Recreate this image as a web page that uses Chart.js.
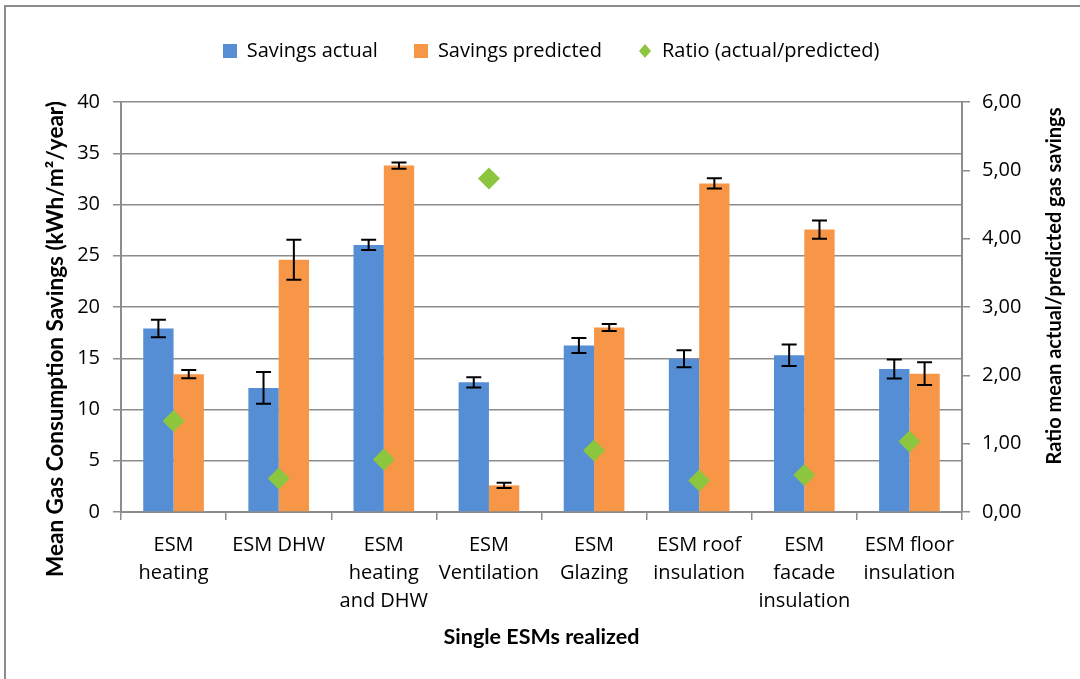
<!DOCTYPE html>
<html>
<head>
<meta charset="utf-8">
<script src="https://cdn.jsdelivr.net/npm/chart.js@4/dist/chart.umd.min.js"></script>
<style>
  html, body { margin: 0; padding: 0; background: #fff; overflow: hidden; }
  #frame { position: absolute; left: 4px; top: 5px; width: 1200px; height: 800px;
           border-left: 2px solid #8c8c8c; border-top: 2px solid #8c8c8c; }
  #wrap { position: absolute; left: 0; top: 0; width: 1080px; height: 679px; }
</style>
</head>
<body>
<div id="frame"></div>
<div id="wrap"><canvas id="c" width="1080" height="679"></canvas></div>
<script>
// ---- data ----
const categories = [
  ['ESM', 'heating'],
  'ESM DHW',
  ['ESM', 'heating', 'and DHW'],
  ['ESM', 'Ventilation'],
  ['ESM', 'Glazing'],
  ['ESM roof', 'insulation'],
  ['ESM', 'facade', 'insulation'],
  ['ESM floor', 'insulation']
];
const savingsActual     = [17.9, 12.1, 26.05, 12.65, 16.25, 14.95, 15.3, 13.95];
const savingsActualErr  = [0.85, 1.55, 0.5, 0.5, 0.73, 0.83, 1.05, 0.93];
const savingsPredicted  = [13.45, 24.6, 33.8, 2.6, 18.0, 32.05, 27.55, 13.5];
const savingsPredictedErr = [0.4, 1.95, 0.3, 0.25, 0.35, 0.5, 0.9, 1.1];
const ratioValues       = [1.33, 0.49, 0.77, 4.88, 0.90, 0.46, 0.54, 1.03];
const seriesNames = ['Savings actual', 'Savings predicted', 'Ratio (actual/predicted)'];
const leftTitle  = 'Mean Gas Consumption Savings (kWh/m\u00B2/year)';
const rightTitle = 'Ratio mean actual/predicted gas savings';
const xTitle     = 'Single ESMs realized';

const BLUE = '#558ed5', ORANGE = '#f79646', GREEN = '#8cc63f', GRID = '#8c8c8c';
const FONT = '"Open Sans"';
const TFONT = 'Lato';

Chart.defaults.font.family = FONT;
Chart.defaults.font.size = 20;
Chart.defaults.color = '#000';

function marker(color, shape) {
  const c = document.createElement('canvas');
  c.width = 14; c.height = 14;
  const g = c.getContext('2d');
  g.fillStyle = color;
  if (shape === 'square') { g.fillRect(0, 0, 14, 14); }
  else { g.beginPath(); g.moveTo(7, 0); g.lineTo(13, 7); g.lineTo(7, 14); g.lineTo(1, 7); g.closePath(); g.fill(); }
  return c;
}
const legendMarkers = [marker(BLUE, 'square'), marker(ORANGE, 'square'), marker(GREEN, 'diamond')];

const legendSpace = {
  id: 'legendSpace',
  beforeLayout(chart) {
    const lg = chart.legend;
    if (lg && !lg.__patched) {
      const orig = lg.fit;
      lg.fit = function () { orig.call(this); this.height = 97; };
      lg.__patched = true;
    }
  },
  afterLayout(chart) {
    const lg = chart.legend;
    if (lg) { lg.left += 11; lg.right += 11; }
  }
};

const errorBars = {
  id: 'errorBars',
  afterDatasetDraw(chart, args) {
    const ds = chart.data.datasets[args.index];
    if (!ds.errors) return;
    const meta = args.meta;
    const ys = chart.scales[meta.yAxisID];
    const ctx = chart.ctx;
    ctx.save();
    ctx.strokeStyle = '#000';
    ctx.lineWidth = 2;
    meta.data.forEach((el, i) => {
      const v = ds.data[i], e = ds.errors[i];
      const x = el.x;
      const yt = ys.getPixelForValue(v + e), yb = ys.getPixelForValue(v - e);
      ctx.beginPath();
      ctx.moveTo(x, yt); ctx.lineTo(x, yb);
      ctx.moveTo(x - 7.5, yt); ctx.lineTo(x + 7.5, yt);
      ctx.moveTo(x - 7.5, yb); ctx.lineTo(x + 7.5, yb);
      ctx.stroke();
    });
    ctx.restore();
  }
};

const sideTitles = {
  id: 'sideTitles',
  afterDraw(chart) {
    const { ctx, chartArea, scales } = chart;
    const cy = (chartArea.top + chartArea.bottom) / 2;
    ctx.save();
    ctx.fillStyle = '#000';
    ctx.textAlign = 'center';
    ctx.textBaseline = 'middle';
    ctx.save();
    ctx.font = 'bold 22.5px ' + TFONT;
    ctx.translate(scales.y.left + 56, cy + 32);
    ctx.rotate(-Math.PI / 2);
    ctx.fillText(leftTitle, 0, 0);
    ctx.restore();
    ctx.save();
    ctx.font = 'bold 20px ' + TFONT;
    ctx.translate(scales.y1.right - 25, cy - 21);
    ctx.rotate(-Math.PI / 2);
    ctx.fillText(rightTitle, 0, 0);
    ctx.restore();
    ctx.restore();
  }
};

new Chart(document.getElementById('c'), {
  type: 'bar',
  data: {
    labels: categories,
    datasets: [
      { label: seriesNames[0], data: savingsActual, errors: savingsActualErr,
        backgroundColor: BLUE, yAxisID: 'y', order: 1,
        barPercentage: 1, categoryPercentage: 0.577 },
      { label: seriesNames[1], data: savingsPredicted, errors: savingsPredictedErr,
        backgroundColor: ORANGE, yAxisID: 'y', order: 1,
        barPercentage: 1, categoryPercentage: 0.577 },
      { type: 'line', label: seriesNames[2], data: ratioValues, yAxisID: 'y1', order: 0,
        showLine: false, pointStyle: 'rectRot', pointRadius: 11, pointHoverRadius: 11,
        pointBackgroundColor: GREEN, pointBorderColor: GREEN, pointBorderWidth: 0,
        backgroundColor: GREEN, borderColor: GREEN }
    ]
  },
  options: {
    responsive: false,
    animation: false,
    events: [],
    layout: { padding: { top: 5, left: 0, right: 0, bottom: 0 } },
    plugins: {
      tooltip: { enabled: false },
      legend: {
        position: 'top',
        align: 'center',
        labels: {
          usePointStyle: true,
          pointStyleWidth: 14,
          boxHeight: 14,
          padding: 36,
          font: { size: 20, family: FONT },
          color: '#000',
          sort: (a, b) => a.datasetIndex - b.datasetIndex,
          generateLabels(chart) {
            const items = Chart.defaults.plugins.legend.labels.generateLabels(chart);
            items.forEach(it => { it.pointStyle = legendMarkers[it.datasetIndex]; });
            return items;
          }
        }
      }
    },
    scales: {
      x: {
        offset: true,
        grid: { offset: true, drawOnChartArea: false, drawTicks: true, tickLength: 8, color: GRID, lineWidth: 1.5 },
        border: { display: true, color: GRID, width: 2 },
        ticks: { padding: 11, maxRotation: 0, autoSkip: false, font: { size: 20, lineHeight: 1.4 } },
        title: { display: true, text: xTitle, font: { family: TFONT, size: 21.5, weight: 'bold' }, padding: { top: 0, bottom: 29 } },
        afterFit(s) { s.height = 167; }
      },
      y: {
        position: 'left',
        min: 0, max: 40,
        ticks: { stepSize: 5, padding: 13, font: { size: 20 } },
        grid: { color: GRID, lineWidth: 1.5, tickLength: 8, drawTicks: true },
        border: { display: true, color: GRID, width: 2 },
        afterFit(s) { s.width = 121; }
      },
      y1: {
        position: 'right',
        min: 0, max: 6,
        ticks: { stepSize: 1, padding: 12, font: { size: 20 }, callback: v => v.toFixed(2).replace('.', ',') },
        grid: { drawOnChartArea: false, color: GRID, lineWidth: 1.5, tickLength: 8, drawTicks: true },
        border: { display: true, color: GRID, width: 2 },
        afterFit(s) { s.width = 118; }
      }
    }
  },
  plugins: [legendSpace, errorBars, sideTitles]
});
</script>
</body>
</html>
